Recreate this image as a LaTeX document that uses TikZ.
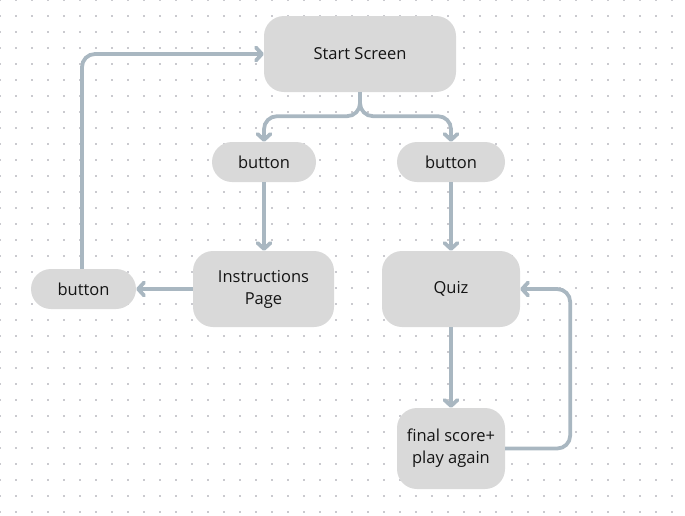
\documentclass[tikz,border=0pt]{standalone}
\usepackage{fontspec}
\setmainfont{Open Sans}
\usetikzlibrary{arrows.meta}
\definecolor{boxfill}{HTML}{D9D9D9}
\definecolor{linec}{HTML}{A9B7C1}
\definecolor{dotc}{HTML}{CACACF}
\begin{document}
\begin{tikzpicture}[x=1pt,y=-1pt,
  box/.style={fill=boxfill, rounded corners=20pt, inner sep=0pt, align=center,
    font=\fontsize{16.5}{22}\selectfont, text=black!92},
  conn/.style={draw=linec, line width=3.8pt, rounded corners=13pt,
    -{Straight Barb[length=6pt,width=13pt,line cap=round,line join=round]}}]
\useasboundingbox (0,0) rectangle (685,515);
\foreach \i in {0,...,42}{\foreach \j in {0,...,32}{
  \fill[dotc] (16*\i-1,16*\j-1) rectangle ++(2,2);}}
\node[box, minimum width=192pt, minimum height=76pt] (start) at (360,54) {Start Screen};
\node[box, minimum width=104pt, minimum height=40pt] (b1) at (264,162) {button};
\node[box, minimum width=108pt, minimum height=40pt] (b2) at (451,162) {button};
\node[box, minimum width=141pt, minimum height=76pt] (instr) at (263.5,289) {Instructions\\Page};
\node[box, minimum width=138pt, minimum height=76pt] (quiz) at (451,289) {Quiz};
\node[box, minimum width=108pt, minimum height=81pt] (final) at (451,448.5) {final score+\\play again};
\node[box, minimum width=105pt, minimum height=40pt] (b3) at (83.5,289) {button};
\draw[conn] (start.south) -- ++(0,24) -| (b1.north);
\draw[conn] (start.south) -- ++(0,24) -| (b2.north);
\draw[conn] (b1.south) -- (b1.south |- instr.north);
\draw[conn] (b2.south) -- (quiz.north);
\draw[conn] (instr.west) -- (b3.east);
\draw[conn] (b3.north -| 82,0) |- (start.west);
\draw[conn] (quiz.south) -- (final.north);
\draw[conn] (final.east) -- ++(65,0) |- (quiz.east);
\end{tikzpicture}
\end{document}
